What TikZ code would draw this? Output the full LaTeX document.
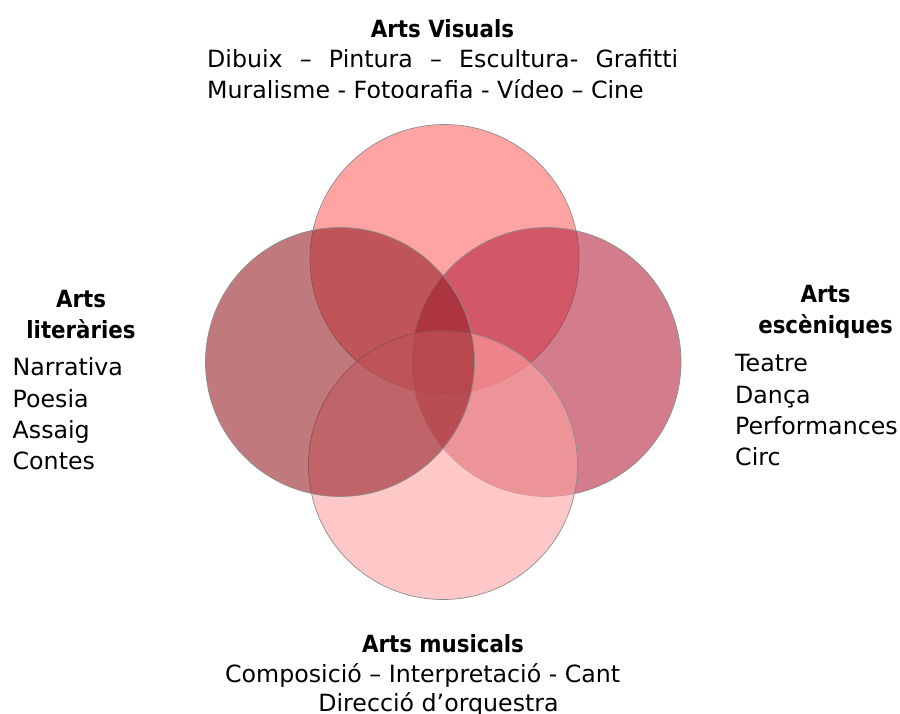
\documentclass[tikz,border=0pt]{standalone}
\usepackage{fontspec}
\setmainfont{DejaVu Sans}
\newfontfamily\headfont{DejaVu Sans}[FakeStretch=0.9]

\definecolor{vistop}{RGB}{255,102,102}
\definecolor{visright}{RGB}{180,37,63}
\definecolor{visbottom}{RGB}{255,163,163}
\definecolor{visleft}{RGB}{150,33,40}

\begin{document}
\begin{tikzpicture}[x = 1pt, y = -1pt,
	set/.style = {draw = black!45, line width = 0.7pt, shape = circle,
				  minimum size = 269pt, inner sep = 0pt, fill opacity = 0.6},
	head/.style = {anchor = base, inner sep = 0pt, align = center,
				   font = \headfont\bfseries\fontsize{23.7}{31}\selectfont},
	item/.style = {anchor = base west, inner sep = 0pt, align = left,
				   font = \fontsize{23.7}{31.2}\selectfont}]

	\useasboundingbox (0,0) rectangle (900,713);

	% the four sets
	\draw (444.5,259) node[set, fill = vistop] (V) {};
	\draw (546.5,362) node[set, fill = visright] (E) {};
	\draw (443,465) node[set, fill = visbottom] (M) {};
	\draw (340,362) node[set, fill = visleft] (L) {};

	% top text, cut at its lower edge
	\begin{scope}
		\clip (0,0) rectangle (900,97);
		\draw (442.5,37) node[head] (Vhead) {Arts Visuals};
		\draw (207,67) node[item] (Vline1)
			{\makebox[471pt][s]{Dibuix – Pintura – Escultura- Grafitti}};
		\draw (207,98) node[item] (Vline2)
			{Muralisme - Fotografia - Vídeo – Cine};
	\end{scope}

	% multi-line nodes sit on the baseline of their last line
	\draw (81,338) node[head] (Lhead) {Arts\\literàries};
	\draw (12.5,469.5) node[item] (Llist) {Narrativa\\Poesia\\Assaig\\Contes};

	\draw (825.5,333) node[head] (Ehead) {Arts\\escèniques};
	\draw (735,465.5) node[item] (Elist) {Teatre\\Dança\\Performances\\Circ};

	\draw (443,652) node[head] (Mhead) {Arts musicals};
	\draw (225,682) node[item] (Mline1) {Composició – Interpretació - Cant};
	\draw (438.5,711) node[item, anchor = base] (Mline2) {Direcció d’orquestra};
\end{tikzpicture}
\end{document}
